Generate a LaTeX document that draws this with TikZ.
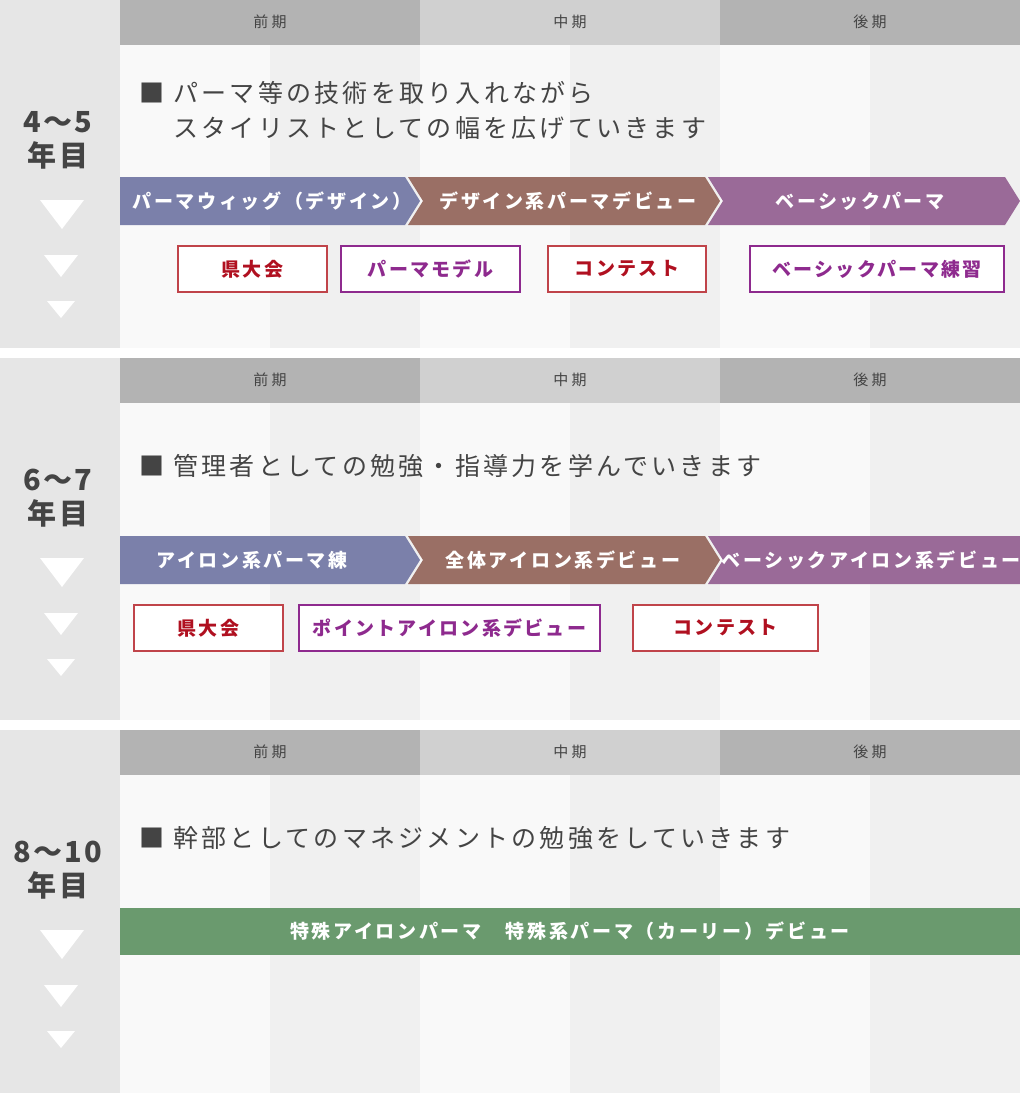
\documentclass[tikz,border=0pt]{standalone}
\usepackage{fontspec}
\setmainfont{Noto Sans CJK JP}
\definecolor{txtgrey}{HTML}{444444}
\definecolor{leftgrey}{HTML}{E6E6E6}
\definecolor{headdark}{HTML}{B3B3B3}
\definecolor{headlight}{HTML}{D0D0D0}
\definecolor{stripea}{HTML}{F9F9F9}
\definecolor{stripeb}{HTML}{F0F0F0}
\definecolor{chevblue}{HTML}{7B80AA}
\definecolor{chevbrown}{HTML}{9A6F65}
\definecolor{chevpurple}{HTML}{9A6A98}
\definecolor{bargreen}{HTML}{6A9A6E}
\definecolor{boxred}{HTML}{C0444A}
\definecolor{textred}{HTML}{B01020}
\definecolor{boxpurple}{HTML}{8E2A8E}
\tikzset{
    headtext/.style={font=\fontsize{15}{15}\selectfont, text=txtgrey},
    yeartext/.style={font=\fontsize{29}{34}\selectfont\bfseries\addfontfeature{LetterSpace=8}, text=txtgrey, align=center},
    leadtext/.style={font=\fontsize{25}{35}\selectfont\addfontfeature{LetterSpace=13}, text=txtgrey, anchor=west, align=left},
    chevtext/.style={font=\fontsize{19}{19}\selectfont\bfseries\addfontfeature{LetterSpace=14}, text=white},
    redbox/.style={draw=boxred, line width=2pt, fill=white, text=textred, minimum height=46pt,
        inner sep=0pt, font=\fontsize{19}{19}\selectfont\bfseries\addfontfeature{LetterSpace=12}, anchor=north west},
    purplebox/.style={redbox, draw=boxpurple, text=boxpurple},
    marker/.style={fill=white, draw=none}
}
% chevron: x1, x2, top, colour, notch
\newcommand{\chevron}[5]{%
  \fill[#4] (#1,#3) -- (#2-15,#3) -- (#2,#3+24) -- (#2-15,#3+48) -- (#1,#3+48) -- (#1+#5,#3+24) -- cycle;}
% panel: top, bottom
\newcommand{\panel}[2]{%
  \fill[leftgrey] (0,#1) rectangle (120,#2);
  \foreach \xa/\col in {120/stripea,270/stripeb,420/stripea,570/stripeb,720/stripea,870/stripeb}
    \fill[\col] (\xa,#1) rectangle (\xa+150,#2);
  \fill[headdark] (120,#1) rectangle (420,#1+45);
  \fill[headlight] (420,#1) rectangle (720,#1+45);
  \fill[headdark] (720,#1) rectangle (1020,#1+45);
  \node[headtext] at (270,#1+22) {前 期};
  \node[headtext] at (570,#1+22) {中 期};
  \node[headtext] at (870,#1+22) {後 期};
  \fill[marker] (40,#1+200) -- (84,#1+200) -- (62,#1+229) -- cycle;
  \fill[marker] (44,#1+255) -- (78,#1+255) -- (61,#1+277) -- cycle;
  \fill[marker] (47,#1+301) -- (75,#1+301) -- (61,#1+318) -- cycle;}
\begin{document}
\begin{tikzpicture}[x=1pt, y=-1pt]
\useasboundingbox (0,0) rectangle (1020,1093);
\clip (0,0) rectangle (1020,1093);
\fill[white] (0,0) rectangle (1020,1093);
\panel{0}{348}
\panel{358}{720}
\panel{730}{1093}

% 4-5
\node (YearA) [yeartext] at (58,140) {4～5\\年目};
\node (LeadA) [leadtext] at (136,110) {■ パーマ等の技術を取り入れながら\\\phantom{■ }スタイリストとしての幅を広げていきます};
\chevron{120}{420}{177}{chevblue}{0}
\chevron{408}{720}{177}{chevbrown}{15}
\chevron{708}{1020}{177}{chevpurple}{15}
\node (ChevA1) [chevtext] at (272,201) {パーマウィッグ（デザイン）};
\node (ChevA2) [chevtext] at (568,201) {デザイン系パーマデビュー};
\node (ChevA3) [chevtext] at (860,201) {ベーシックパーマ};
\node (BoxA1) [redbox, minimum width=149pt] at (177,245) {県大会};
\node (BoxA2) [purplebox, minimum width=179pt] at (340,245) {パーマモデル};
\node (BoxA3) [redbox, minimum width=158pt] at (547,245) {コンテスト};
\node (BoxA4) [purplebox, minimum width=254pt] at (749,245) {ベーシックパーマ練習};

% 6-7
\node (YearB) [yeartext] at (58,498) {6～7\\年目};
\node (LeadB) [leadtext] at (136,466) {■ 管理者としての勉強・指導力を学んでいきます};
\chevron{120}{420}{536}{chevblue}{0}
\chevron{408}{720}{536}{chevbrown}{15}
\chevron{708}{1040}{536}{chevpurple}{15}
\node (ChevB1) [chevtext] at (252,560) {アイロン系パーマ練};
\node (ChevB2) [chevtext] at (563,560) {全体アイロン系デビュー};
\node (ChevB3) [chevtext, anchor=west] at (718,560) {ベーシックアイロン系デビュー};
\node (BoxB1) [redbox, minimum width=149pt] at (133,604) {県大会};
\node (BoxB2) [purplebox, minimum width=301pt] at (298,604) {ポイントアイロン系デビュー};
\node (BoxB3) [redbox, minimum width=185pt] at (632,604) {コンテスト};

% 8-10
\node (YearC) [yeartext] at (58,870) {8～10\\年目};
\node (LeadC) [leadtext] at (136,838) {■ 幹部としてのマネジメントの勉強をしていきます};
\fill[bargreen] (120,908) rectangle (1020,955);
\node (BarC) [chevtext] at (570,931) {特殊アイロンパーマ　特殊系パーマ（カーリー）デビュー};
\end{tikzpicture}
\end{document}
